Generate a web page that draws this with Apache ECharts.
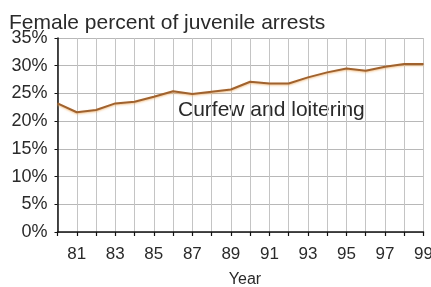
<!DOCTYPE html>
<html><head><meta charset="utf-8">
<script src="https://cdn.jsdelivr.net/npm/echarts@6/dist/echarts.min.js"></script>
<style>html,body{margin:0;padding:0;background:#fff}#c{width:431px;height:287px}</style>
</head><body><div id="c"></div>
<script>
var years = ['80','81','82','83','84','85','86','87','88','89','90','91','92','93','94','95','96','97','98','99'];
var femalePct = [23.2, 21.6, 22.0, 23.2, 23.5, 24.4, 25.4, 24.9, 25.3, 25.7, 27.1, 26.8, 26.8, 27.9, 28.8, 29.5, 29.1, 29.8, 30.3, 30.3];
var seriesLabel = 'Curfew and loitering';
var titleText = 'Female percent of juvenile arrests';
var xAxisName = 'Year';

var chart = echarts.init(document.getElementById('c'), null, {renderer: 'canvas'});
var font = '"Liberation Sans", Arial, sans-serif';
chart.setOption({
  animation: false,
  textStyle: {fontFamily: font},
  title: {text: titleText, left: 9, top: 13, padding: 0, textStyle: {fontFamily: font, fontSize: 21, fontWeight: 'normal', color: '#2a2a2a'}},
  grid: {left: 57.5, right: 7.5, top: 38, bottom: 55, containLabel: false, outerBoundsMode: 'none'},
  xAxis: {
    type: 'category', data: years, boundaryGap: false,
    name: xAxisName, nameLocation: 'middle', nameGap: 40,
    nameTextStyle: {fontFamily: font, fontSize: 16, color: '#2a2a2a', padding: [0, 0, 0, 9]},
    axisLine: {lineStyle: {color: '#111', width: 1.5}},
    axisTick: {show: true, interval: 0, length: 4, lineStyle: {color: '#111', width: 1.2}},
    axisLabel: {interval: function(i){ return i % 2 === 1; }, margin: 14, fontSize: 17, color: '#2a2a2a', fontFamily: font, hideOverlap: false},
    splitLine: {show: true, interval: 0, lineStyle: {color: '#c4c4c4', width: 1}}
  },
  yAxis: {
    type: 'value', min: 0, max: 35, interval: 5,
    axisLine: {show: true, lineStyle: {color: '#111', width: 1.5}},
    axisTick: {show: true, length: 3, lineStyle: {color: '#111'}},
    axisLabel: {formatter: '{value}%', fontSize: 18, margin: 10, color: '#2a2a2a', fontFamily: font, padding: [7, 0, 0, 0]},
    splitLine: {show: true, lineStyle: {color: '#b8b8b8', width: 1}}
  },
  series: [{
    type: 'line', data: femalePct, symbol: 'none',
    lineStyle: {color: '#a0622e', width: 2, shadowColor: 'rgba(240,170,90,0.7)', shadowBlur: 2, shadowOffsetY: 1},
    z: 5
  }],
  graphic: [{
    type: 'text', left: 178, top: 100,
    style: {text: seriesLabel, font: '21px "Liberation Sans", Arial, sans-serif', fill: '#2a2a2a'}
  }]
});
</script></body></html>
